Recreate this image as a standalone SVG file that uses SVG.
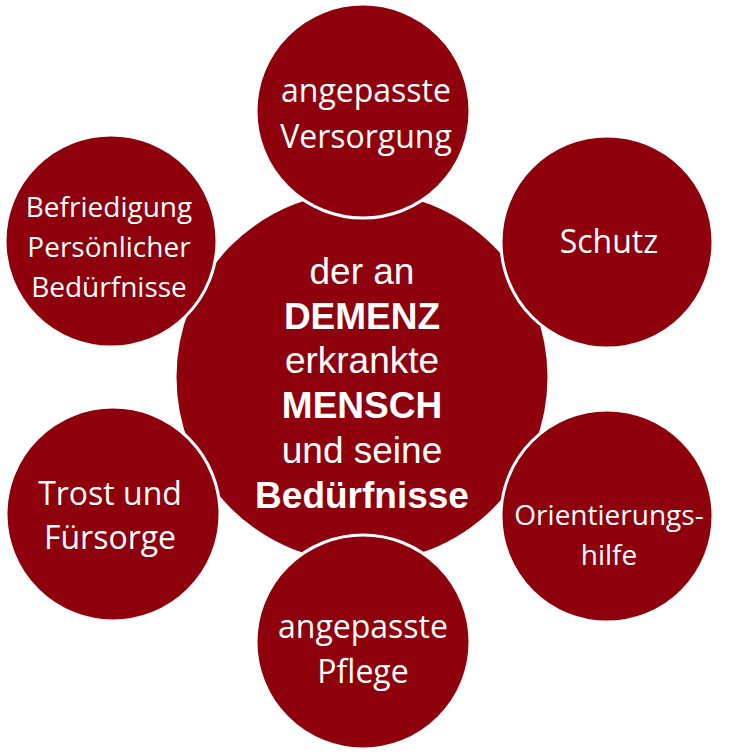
<svg xmlns="http://www.w3.org/2000/svg" width="731" height="754" viewBox="0 0 731 754">
<style>
.c{fill:#8F000D;stroke:#FFFFFF;stroke-width:3}
.t{fill:#FFFFFF;font-family:"Open Sans","Noto Sans","DejaVu Sans",sans-serif;text-anchor:middle}
.m{fill:#FFFFFF;font-family:"Liberation Sans",Arial,sans-serif;font-size:37px;text-anchor:middle}
.b{font-weight:bold}
</style>
<rect width="731" height="754" fill="#FFFFFF"/>
<g id="connectors"></g>
<g id="center">
<circle class="c" cx="362" cy="377" r="187"/>
<text class="m" x="362" y="284">der an</text>
<text class="m b" x="362" y="329">DEMENZ</text>
<text class="m" x="362" y="373">erkrankte</text>
<text class="m b" x="362" y="418">MENSCH</text>
<text class="m" x="362" y="463">und seine</text>
<text class="m b" x="362" y="508">Bedürfnisse</text>
</g>
<g id="versorgung">
<circle class="c" cx="363" cy="111" r="107"/>
<text class="t" x="366" y="102" font-size="32">angepasste</text>
<text class="t" x="366" y="148" font-size="32">Versorgung</text>
</g>
<g id="schutz">
<circle class="c" cx="607" cy="242" r="106"/>
<text class="t" x="609" y="253" font-size="32">Schutz</text>
</g>
<g id="orientierung">
<circle class="c" cx="607" cy="516" r="106"/>
<text class="t" x="609" y="525" font-size="28">Orientierungs-</text>
<text class="t" x="609" y="565" font-size="28">hilfe</text>
</g>
<g id="pflege">
<circle class="c" cx="363" cy="642" r="107"/>
<text class="t" x="363" y="638" font-size="32">angepasste</text>
<text class="t" x="363" y="683" font-size="32">Pflege</text>
</g>
<g id="trost">
<circle class="c" cx="113" cy="514" r="107"/>
<text class="t" x="110" y="505" font-size="32">Trost und</text>
<text class="t" x="110" y="549" font-size="32">Fürsorge</text>
</g>
<g id="befriedigung">
<circle class="c" cx="111" cy="241" r="106"/>
<text class="t" x="109" y="217" font-size="28">Befriedigung</text>
<text class="t" x="109" y="257" font-size="28">Persönlicher</text>
<text class="t" x="109" y="297" font-size="28">Bedürfnisse</text>
</g>
</svg>
